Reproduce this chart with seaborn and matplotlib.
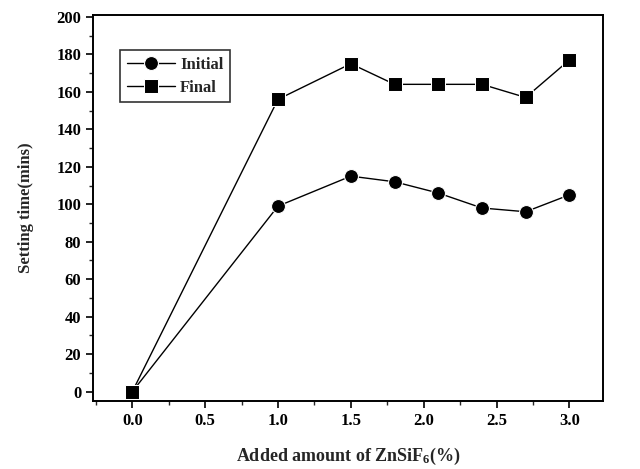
import numpy as np
import pandas as pd
import matplotlib
matplotlib.use("Agg")
import matplotlib.pyplot as plt
import seaborn as sns
from matplotlib.ticker import MultipleLocator

x_amount = [0.0, 1.0, 1.5, 1.8, 2.1, 2.4, 2.7, 3.0]
initial = [0, 99, 115, 112, 106, 98, 96, 105]
final = [0, 156, 175, 164, 164, 164, 157, 177]
series_names = ["Initial", "Final"]

sns.set_theme(style="ticks")
plt.rcParams['font.family'] = ['Liberation Serif', 'DejaVu Serif']
plt.rcParams['font.weight'] = 'bold'
plt.rcParams['mathtext.fontset'] = 'custom'
plt.rcParams['mathtext.rm'] = 'Liberation Serif:bold'
plt.rcParams['mathtext.it'] = 'Liberation Serif:bold'
plt.rcParams['mathtext.bf'] = 'Liberation Serif:bold'

df = pd.DataFrame({
    "x": x_amount * 2,
    "y": initial + final,
    "series": [series_names[0]] * len(x_amount) + [series_names[1]] * len(x_amount),
})

fig = plt.figure(figsize=(6.4, 4.69), dpi=100)
ax = fig.add_axes([0.1453, 0.145, 0.7967, 0.823])

sns.lineplot(data=df, x="x", y="y", hue="series", style="series",
             markers={"Initial": "o", "Final": "s"}, dashes=False,
             palette={"Initial": "black", "Final": "black"},
             markersize=10, linewidth=1.0, ax=ax, legend=True)

ax.set_xlim(-0.27, 3.23)
ax.set_ylim(-5, 201)
ax.xaxis.set_major_locator(MultipleLocator(0.5))
ax.xaxis.set_minor_locator(MultipleLocator(0.25))
ax.yaxis.set_major_locator(MultipleLocator(20))
ax.yaxis.set_minor_locator(MultipleLocator(10))
ax.set_xticks(np.arange(0, 3.01, 0.5))
ax.set_xticklabels([f"{v:.1f}" for v in np.arange(0, 3.01, 0.5)])
ax.tick_params(axis='both', which='major', direction='out', length=5, width=1.2,
               labelsize=12, colors='black')
ax.tick_params(axis='both', which='minor', direction='out', length=3, width=1.0)
for lab in ax.get_xticklabels() + ax.get_yticklabels():
    lab.set_fontweight('bold')

for sp in ax.spines.values():
    sp.set_linewidth(1.4)
    sp.set_color('black')

ax.set_xlabel("Added amount of ZnSiF$_{6}$(%)", fontsize=13, fontweight='bold', labelpad=12)
ax.set_ylabel("Setting time(mins)", fontsize=12, fontweight='bold', labelpad=16)

leg = ax.legend(loc='upper left', bbox_to_anchor=(0.037, 0.93), frameon=True, fancybox=False,
                edgecolor='black', handlelength=2.9, handletextpad=0.3, borderpad=0.4,
                labelspacing=0.4, prop={'weight': 'bold', 'size': 12})
leg.get_frame().set_linewidth(1.2)

fig.savefig("out.png", dpi=100)
